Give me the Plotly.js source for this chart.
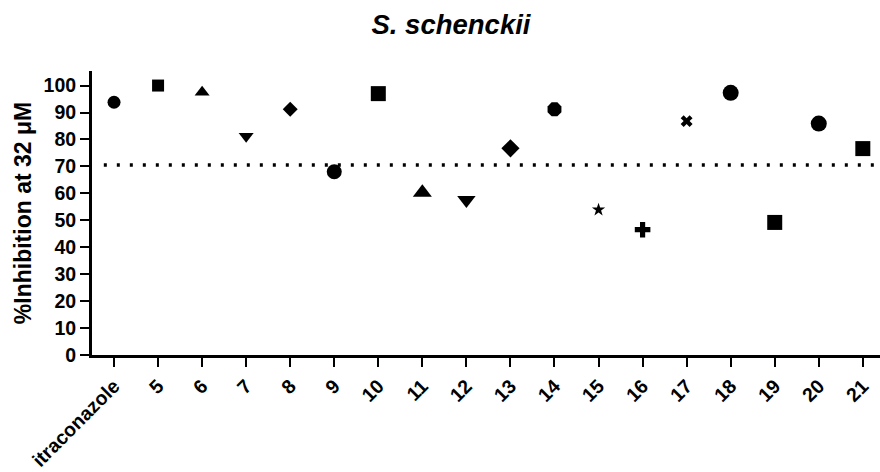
<!DOCTYPE html>
<html>
<head>
<meta charset="utf-8">
<script src="https://cdn.plot.ly/plotly-3.0.1.min.js"></script>
<style>html,body{margin:0;padding:0;background:#fff;}#chart{width:880px;height:472px;}</style>
</head>
<body>
<div id="chart"></div>
<script>
const compounds = ["itraconazole","5","6","7","8","9","10","11","12","13","14","15","16","17","18","19","20","21"];
const inhibition = [93.8,100,97.5,81.2,91.2,68.0,97.0,60.3,57.5,76.7,91.2,53.9,46.5,86.8,97.3,49.2,85.9,76.6];
const symbols = ["circle","square","triangle-up","triangle-down","diamond","circle","square","triangle-up","triangle-down","diamond","octagon","star","cross","x","circle","square","circle","square"];
const sizes = [13,12,13,13,11.5,15,15,16.5,16,14,15,10,13,10.5,16,15,16,15];
const threshold = [70.5];
const yTicks = [0,10,20,30,40,50,60,70,80,90,100];

const font = "Liberation Sans, Arial, sans-serif";
const data = [{
  type: "scatter",
  mode: "markers",
  x: compounds,
  y: inhibition,
  marker: {symbol: symbols, size: sizes, color: "#000", opacity: 1, line: {width: 0}},
  cliponaxis: false,
  hoverinfo: "x+y"
}];

const layout = {
  width: 880, height: 472,
  margin: {l: 92, r: 0, t: 71, b: 117, pad: 0},
  paper_bgcolor: "#fff", plot_bgcolor: "#fff",
  showlegend: false,
  title: {text: "<b><i>S. schenckii</i></b>", font: {family: font, size: 27.5, color: "#000"},
          xref: "container", x: 0.5125, xanchor: "center", yref: "container", y: 0.948, yanchor: "middle"},
  xaxis: {
    type: "category", range: [-0.5, 17.39],
    showline: true, linewidth: 3, linecolor: "#000",
    ticks: "outside", ticklen: 9, tickwidth: 2, tickcolor: "#000",
    tickangle: -45, showgrid: false, zeroline: false,
    tickfont: {family: font, size: 19.5, color: "#000", weight: "bold"},
    automargin: false
  },
  yaxis: {
    range: [0, 105.4], tickvals: yTicks, ticktext: yTicks.map(String),
    showline: true, linewidth: 3, linecolor: "#000",
    ticks: "outside", ticklen: 9, tickwidth: 2, tickcolor: "#000",
    showgrid: false, zeroline: false,
    tickfont: {family: font, size: 19.5, color: "#000", weight: "bold"},
    title: {text: "<b>%Inhibition at 32 μM</b>", font: {family: font, size: 23, color: "#000"}, standoff: 6},
    automargin: false
  },
  shapes: threshold.map(v => ({
    type: "line", xref: "paper", yref: "y", x0: 0.015, x1: 1, y0: v, y1: v,
    line: {color: "#000", width: 3.5, dash: "3px,10px"}
  }))
};

Plotly.newPlot("chart", data, layout, {displayModeBar: false, staticPlot: true});
</script>
</body>
</html>
